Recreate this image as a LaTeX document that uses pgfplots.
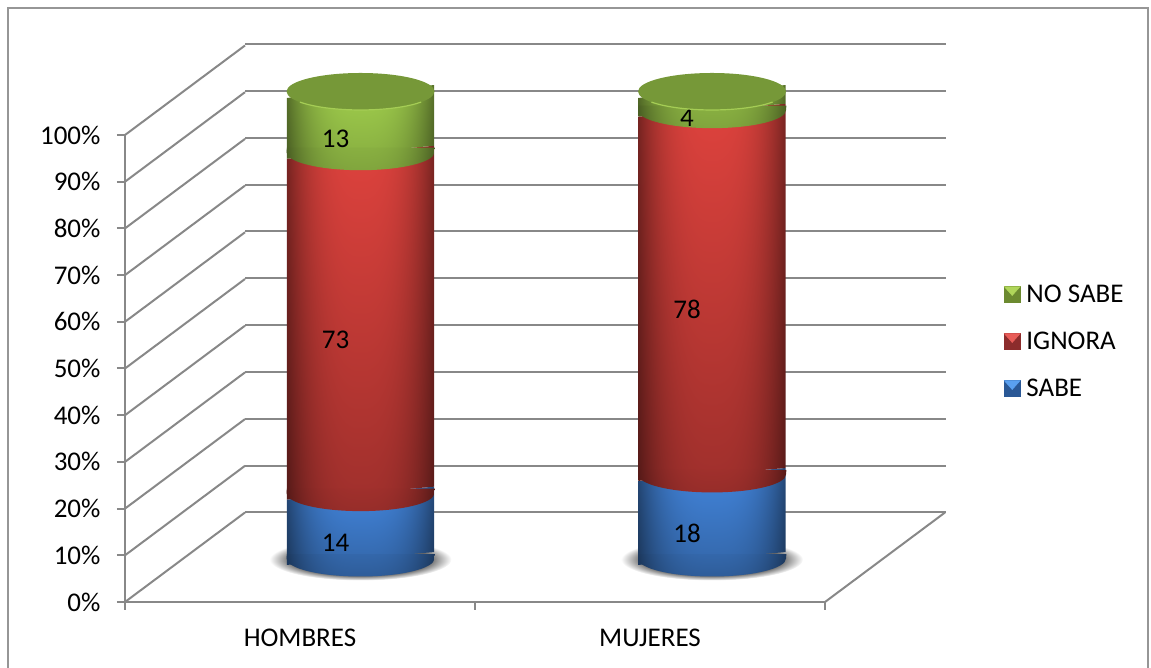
\documentclass[border=0pt]{standalone}
\usepackage{fontspec}
\setmainfont{Carlito}
\usepackage{pgfplots}
\pgfplotsset{compat=1.18}
\definecolor{linegray}{RGB}{136,136,136}
\definecolor{framegray}{RGB}{150,150,150}

% cylinder surface: x y -> r g b, dark towards the sides, #5..#6 is the brightness from bottom to top
% (a path's box is the middle 25..75 of the 100bp shading)
\newcommand{\cylshade}[6]{%
  \pgfdeclarefunctionalshading{#1}{\pgfpointorigin}{\pgfpoint{100bp}{100bp}}{}{%
    25 sub 50 div #6 #5 sub mul #5 add exch
    50 sub 25 div abs 2.8 exp 0.46 mul 1 exch sub mul
    dup #2 mul exch dup #3 mul exch #4 mul}}
\cylshade{blueB}{0.26}{0.52}{0.86}{0.78}{1}
\cylshade{blueL}{0.26}{0.52}{0.86}{0.70}{0.78}
\cylshade{redB}{0.87}{0.26}{0.24}{0.72}{1}
\cylshade{redL}{0.87}{0.26}{0.24}{0.68}{0.72}
\cylshade{greenB}{0.63}{0.81}{0.30}{0.85}{1}
\cylshade{greenL}{0.63}{0.81}{0.30}{0.80}{0.85}
\pgfdeclareradialshading{floorshadow}{\pgfpointorigin}{color(0bp)=(black!60); color(19bp)=(black!60); color(25bp)=(white); color(50bp)=(white)}

% lower front edge of a segment, and the shadow and lid of the cylinder
\newcommand{\lensmark}[2]{\pgfdeclareplotmark{#1}{%
  \path[x=1pt,y=1pt,shade,shading=#2,rotate=5] (-74,0) arc[start angle=180,end angle=360,x radius=74,y radius=18]--(74.37,4.49)--(-73.59,4.48)--cycle;}}
\tikzset{px/.style={x=1pt,y=1pt}}
\begin{document}
\begin{tikzpicture}[px]
\lensmark{lensblue}{blueL}
\lensmark{lensred}{redL}
\lensmark{lensgreen}{greenL}
\pgfdeclareplotmark{shadow}{\path[px,shade,shading=floorshadow,rotate=5] (0,-1) ellipse[x radius=91,y radius=21];}
\pgfdeclareplotmark{lid}{%
  \fill[px,rotate=5,color={rgb,255:red,118;green,152;blue,56}] (0,0) ellipse[x radius=74,y radius=18.5];
  \draw[px,rotate=5,line width=1.2pt,color={rgb,255:red,165;green,205;blue,85}] (-60.6,-10.6) arc[start angle=215,end angle=325,x radius=74,y radius=18.5];}
\path[use as bounding box] (0,0) rectangle (1151,668);
\draw[framegray,line width=1.6pt] (8,0)--(8,660)--(1148,660)--(1148,0);

\pgfplotsset{
  every axis/.append style={clip=false},
  wall/.style={
    anchor=origin,xmin=0,xmax=1,ymin=0,ymax=100,ytick distance=10,xtick=\empty,
    yticklabels={},tick style={draw=none},axis line style={draw=none},
    ymajorgrids,grid style={linegray,line width=2pt}},
  cyl/.style={
    anchor=origin,hide axis,stack plots=y,reverse stacked plots=false,
    x={(147.4pt,12.9pt)},y={(0pt,4.67pt)},xmin=-0.5,xmax=0.5,ymin=0,ymax=100},
  seg/.style={shade,shading=#1,draw=none,mark=none,
    nodes near coords,point meta=explicit symbolic,visualization depends on=rawy \as \rawval,
    nodes near coords style={font=\fontsize{27}{29}\selectfont,text=black,anchor=center,
      shift={(axis direction cs:0,-\rawval/2)},xshift=-25pt,yshift=-17pt}},
  lens/.style={draw=none,mark=#1,mark indices={2}},
  swatch/.style n args={2}{legend image code/.code={
    \fill[px,color=#1] (0,-8) rectangle (16,8);
    \fill[px,color=#2] (0,8)--(16,8)--(8,-1)--cycle;
    \path[px] (20,0);}}
}
\definecolor{swG}{RGB}{108,138,48}\definecolor{swGl}{RGB}{176,214,90}
\definecolor{swR}{RGB}{140,44,44}\definecolor{swRl}{RGB}{232,92,88}
\definecolor{swB}{RGB}{42,88,150}\definecolor{swBl}{RGB}{90,160,240}

% side wall, back wall and floor
\begin{axis}[wall,at={(125pt,66pt)},x={(120pt,89.5pt)},y={(0pt,4.67pt)}]
\end{axis}
\begin{axis}[wall,at={(245pt,155.5pt)},x={(701pt,0pt)},y={(0pt,4.685pt)}]
\end{axis}
\begin{axis}[anchor=origin,at={(825pt,66pt)},x={(120pt,89.5pt)},y={(0pt,1pt)},xmin=0,xmax=1,ymin=0,ymax=1,
  xtick=\empty,ytick=\empty,axis x line*=bottom,axis y line=none,axis line style={linegray,line width=2pt,-}]
\end{axis}

% front axes with the tick labels
\begin{axis}[
  at={(125pt,66pt)},anchor=south west,scale only axis,width=700pt,height=467pt,
  xmin=-0.5,xmax=1.5,ymin=0,ymax=100,
  axis x line*=bottom,axis y line*=left,axis line style={linegray,line width=2pt,-},
  tick style={linegray,line width=2pt},tick align=outside,major tick length=8pt,
  xtick={-0.5,0.5,1.5},xticklabels={},
  extra x ticks={0,1},extra x tick labels={HOMBRES,MUJERES},
  extra x tick style={major tick length=0pt,tick style={draw=none},
    xticklabel style={yshift=-23pt}},
  ytick distance=10,yticklabel={\pgfmathprintnumber{\tick}\%},
  tick label style={font=\fontsize{27}{29}\selectfont,/pgf/number format/assume math mode=true},
  yticklabel style={xshift=-13pt}
]
\addplot[draw=none,forget plot] coordinates {(0,0)};
\end{axis}

% legend, its swatches drawn by the legend image code
\begin{axis}[
  at={(125pt,66pt)},anchor=south west,scale only axis,width=700pt,height=467pt,hide axis,
  xmin=0,xmax=1,ymin=0,ymax=1,
  legend style={draw=none,fill=none,font=\fontsize{27}{29}\selectfont,
    at={(rel axis cs:1.2557,0.683)},anchor=north west,inner sep=0pt,outer sep=0pt,
    cells={anchor=west},row sep=24pt},
  legend cell align=left
]
\addlegendimage{swatch={swG}{swGl}}
\addlegendentry{NO SABE}
\addlegendimage{swatch={swR}{swRl}}
\addlegendentry{IGNORA}
\addlegendimage{swatch={swB}{swBl}}
\addlegendentry{SABE}
\end{axis}

% shadows on the floor, under everything of the cylinders
\begin{axis}[cyl,at={(360.5pt,109.5pt)}]
\addplot[lens=shadow] coordinates {(-0.5,0)(0,0)(0.5,0)};
\end{axis}
\begin{axis}[cyl,at={(712pt,109.5pt)}]
\addplot[lens=shadow] coordinates {(-0.5,0)(0,0)(0.5,0)};
\end{axis}

% HOMBRES
\begin{axis}[cyl,at={(360.5pt,109.5pt)}]
\addplot[lens=lensblue] coordinates {(-0.5,0)(0,0)(0.5,0)};
\addplot[seg=blueB] coordinates {(-0.5,14)[](0,14)[14](0.5,14)[]} \closedcycle;
\addplot[lens=lensred] coordinates {(-0.5,0)(0,0)(0.5,0)};
\addplot[seg=redB] coordinates {(-0.5,73)[](0,73)[73](0.5,73)[]} \closedcycle;
\addplot[lens=lensgreen] coordinates {(-0.5,0)(0,0)(0.5,0)};
\addplot[seg=greenB] coordinates {(-0.5,13)[](0,13)[13](0.5,13)[]} \closedcycle;
\addplot[lens=lid] coordinates {(-0.5,0)(0,0)(0.5,0)};
\end{axis}

% MUJERES
\begin{axis}[cyl,at={(712pt,109.5pt)}]
\addplot[lens=lensblue] coordinates {(-0.5,0)(0,0)(0.5,0)};
\addplot[seg=blueB] coordinates {(-0.5,18)[](0,18)[18](0.5,18)[]} \closedcycle;
\addplot[lens=lensred] coordinates {(-0.5,0)(0,0)(0.5,0)};
\addplot[seg=redB] coordinates {(-0.5,78)[](0,78)[78](0.5,78)[]} \closedcycle;
\addplot[lens=lensgreen] coordinates {(-0.5,0)(0,0)(0.5,0)};
\addplot[seg=greenB] coordinates {(-0.5,4)[](0,4)[4](0.5,4)[]} \closedcycle;
\addplot[lens=lid] coordinates {(-0.5,0)(0,0)(0.5,0)};
\end{axis}
\end{tikzpicture}
\end{document}
